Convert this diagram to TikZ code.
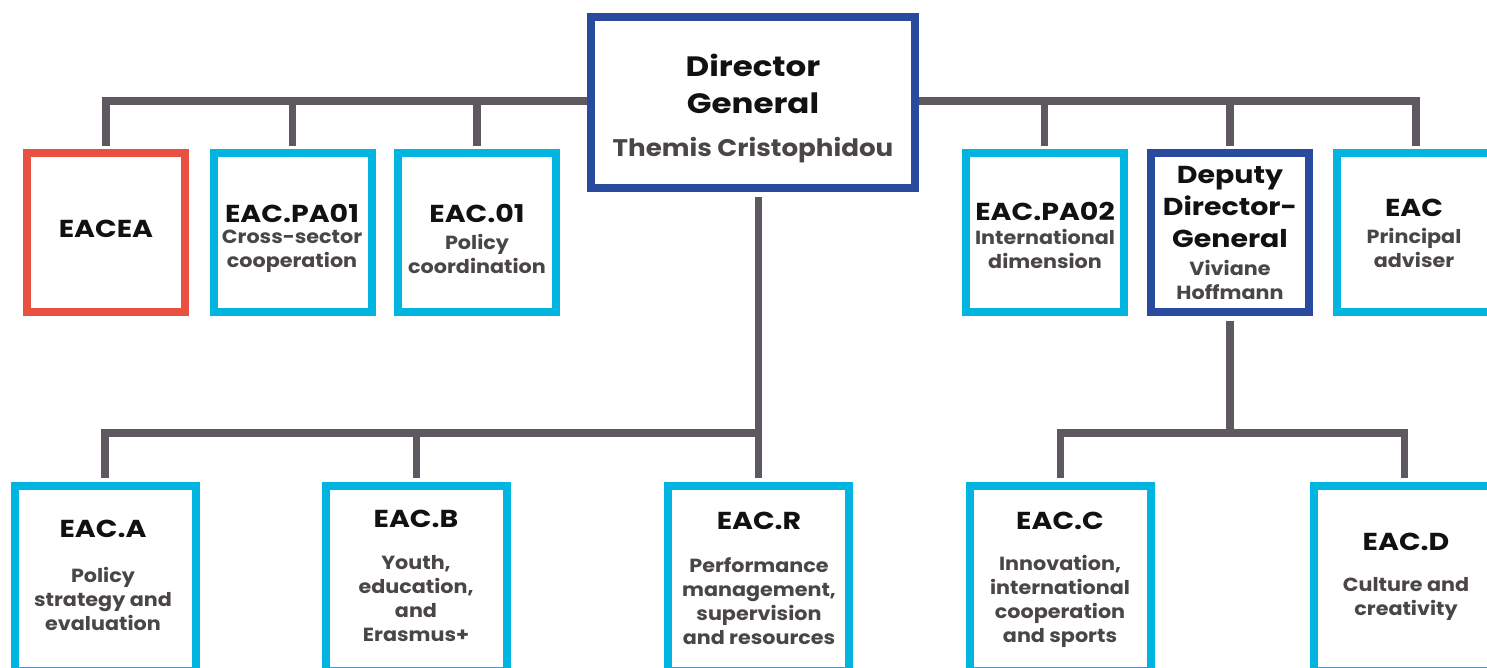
\documentclass[tikz,border=0pt]{standalone}
\usepackage{fontspec}
\setmainfont{Poppins}
\newfontfamily\ttlfont{Poppins}[FakeStretch=1.16]
\newfontfamily\bdyfont{Poppins}[FakeStretch=1.09]
\definecolor{conncol}{HTML}{5E5860}
\definecolor{cyanb}{HTML}{00B5E0}
\definecolor{redb}{HTML}{E8503F}
\definecolor{blueb}{HTML}{2A4AA0}
\definecolor{titlecol}{HTML}{111111}
\definecolor{bodycol}{HTML}{4A4548}
\tikzset{
  box/.style={draw=cyanb, line width=8pt, fill=white, inner sep=0pt, rectangle},
  topbox/.style={box, minimum width=158pt, minimum height=159pt},
  botbox/.style={box, minimum width=181pt, minimum height=185pt},
  conn/.style={draw=conncol, line width=7.5pt, line join=miter, line cap=butt},
  ttl/.style={font=\ttlfont\fontsize{24.5}{30}\selectfont\bfseries, text=titlecol, align=center, inner sep=0pt},
  bdy/.style={font=\bdyfont\fontsize{19}{24}\selectfont\bfseries, text=bodycol, align=center, inner sep=0pt},
}
\begin{document}
\begin{tikzpicture}[x=1pt, y=-1pt]
\useasboundingbox (0,0) rectangle (1487,667);
\clip (0,0) rectangle (1487,667);
% boxes (placed first for their anchors)
\path
  (753,102.5) node[box, draw=blueb, minimum width=324pt, minimum height=171pt] (dg) {}
  (106,232.5) node[topbox, draw=redb] (eacea) {}
  (292.5,232.5) node[topbox] (pa01) {}
  (477,232.5) node[topbox] (eac01) {}
  (1044.5,232.5) node[topbox] (pa02) {}
  (1230,232.5) node[topbox, draw=blueb] (dep) {}
  (1416,232.5) node[topbox] (eac) {}
  (105,578.5) node[botbox] (eaca) {}
  (416.5,578.5) node[botbox] (eacb) {}
  (758.5,578.5) node[botbox] (eacr) {}
  (1060.5,578.5) node[botbox] (eacc) {}
  (1404.5,578.5) node[botbox] (eacd) {};
% connectors
\coordinate (barT) at (0,101);
\coordinate (barB) at (0,433);
\draw[conn, shorten <=3pt, shorten >=3pt] (eacea.north) |- (eac.north |- barT) -- (eac.north);
\draw[conn, shorten <=3pt] (pa01.north) -- (pa01.north |- barT);
\draw[conn, shorten <=3pt] (eac01.north) -- (eac01.north |- barT);
\draw[conn, shorten <=3pt] (pa02.north) -- (pa02.north |- barT);
\draw[conn, shorten <=3pt] (dep.north) -- (dep.north |- barT);
\draw[conn, shorten <=5pt, shorten >=4pt] (dg.south -| eacr.north) -- (eacr.north);
\draw[conn, shorten <=4pt] (eaca.north) |- (eacr.north |- barB);
\draw[conn, shorten <=4pt] (eacb.north) -- (eacb.north |- barB);
\draw[conn, shorten <=5pt] (dep.south) -- (dep.south |- barB);
\draw[conn, shorten <=4pt, shorten >=4pt] (eacc.north) |- (eacd.north |- barB) -- (eacd.north);
% redraw the top boxes over the bar
\path
  (753,102.5) node[box, draw=blueb, minimum width=324pt, minimum height=171pt] (dgb) {}
  (106,232.5) node[topbox, draw=redb] (eaceab) {}
  (292.5,232.5) node[topbox] (pa01b) {}
  (477,232.5) node[topbox] (eac01b) {}
  (1044.5,232.5) node[topbox] (pa02b) {}
  (1230,232.5) node[topbox, draw=blueb] (depb) {}
  (1416,232.5) node[topbox] (eacbx) {};
% texts
\node[ttl, font=\ttlfont\fontsize{28}{37}\selectfont\bfseries] (dgt) at (753,83.5) {Director\\General};
\node[bdy, font=\bdyfont\fontsize{24}{28}\selectfont\bfseries] (dgn) at (753,150) {Themis Cristophidou};
\node[ttl] (t1) at (106,229) {EACEA};
\node[ttl] (t2) at (292,213) {EAC.PA01};
\node[bdy] (b2) at (292,251.5) {Cross-sector\\cooperation};
\node[ttl] (t3) at (477,213) {EAC.01};
\node[bdy] (b3) at (477,253.5) {Policy\\coordination};
\node[ttl] (t4) at (1045,211) {EAC.PA02};
\node[bdy] (b4) at (1045,248.5) {International\\dimension};
\node[ttl, font=\ttlfont\fontsize{24.5}{32}\selectfont\bfseries] (t5) at (1230,207) {Deputy\\Director-\\General};
\node[bdy] (b5) at (1230,279.5) {Viviane\\Hoffmann};
\node[ttl] (t6) at (1414,208) {EAC};
\node[bdy] (b6) at (1414,247.5) {Principal\\adviser};
\node[ttl] (t7) at (103,529) {EAC.A};
\node[bdy] (b7) at (103,598.5) {Policy\\strategy and\\evaluation};
\node[ttl] (t8) at (416,519) {EAC.B};
\node[bdy] (b8) at (416,598.5) {Youth,\\education,\\and\\Erasmus+};
\node[ttl] (t9) at (759,521) {EAC.R};
\node[bdy] (b9) at (759,601.5) {Performance\\management,\\supervision\\and resources};
\node[ttl] (t10) at (1060,521) {EAC.C};
\node[bdy] (b10) at (1060,601) {Innovation,\\international\\cooperation\\and sports};
\node[ttl] (t11) at (1406,542) {EAC.D};
\node[bdy] (b11) at (1406,598.5) {Culture and\\creativity};
\end{tikzpicture}
\end{document}
